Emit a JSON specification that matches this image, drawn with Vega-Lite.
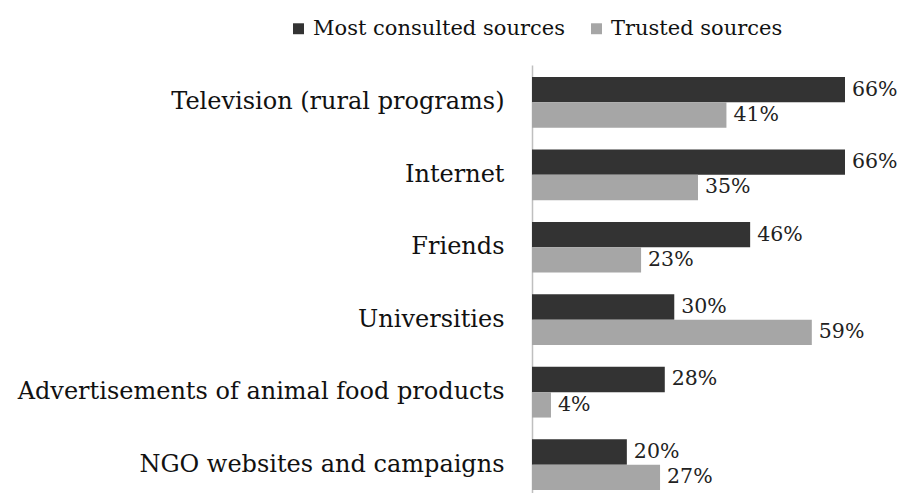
{
  "$schema": "https://vega.github.io/schema/vega-lite/v6.json",
  "width": 313,
  "height": 428,
  "autosize": {"type": "none"},
  "padding": {"left": 532, "top": 65, "right": 54, "bottom": 0},
  "background": "white",
  "config": {"view": {"stroke": null}, "font": "DejaVu Serif"},
  "data": {
    "values": [
      {"source": "Television (rural programs)", "series": "Most consulted sources", "value": 0.66},
      {"source": "Television (rural programs)", "series": "Trusted sources", "value": 0.41},
      {"source": "Internet", "series": "Most consulted sources", "value": 0.66},
      {"source": "Internet", "series": "Trusted sources", "value": 0.35},
      {"source": "Friends", "series": "Most consulted sources", "value": 0.46},
      {"source": "Friends", "series": "Trusted sources", "value": 0.23},
      {"source": "Universities", "series": "Most consulted sources", "value": 0.30},
      {"source": "Universities", "series": "Trusted sources", "value": 0.59},
      {"source": "Advertisements of animal food products", "series": "Most consulted sources", "value": 0.28},
      {"source": "Advertisements of animal food products", "series": "Trusted sources", "value": 0.04},
      {"source": "NGO websites and campaigns", "series": "Most consulted sources", "value": 0.20},
      {"source": "NGO websites and campaigns", "series": "Trusted sources", "value": 0.27}
    ]
  },
  "encoding": {
    "y": {
      "field": "source", "type": "nominal", "sort": null,
      "scale": {"paddingInner": 0.3, "paddingOuter": 0.103, "align": 0.8},
      "axis": {"title": null, "ticks": false, "domainColor": "#bfbfbf", "domainWidth": 1.5, "labelFontSize": 24, "labelColor": "#111111", "labelPadding": 28, "labelLimit": 700, "grid": false}
    },
    "yOffset": {"field": "series", "type": "nominal", "sort": ["Most consulted sources", "Trusted sources"]},
    "x": {"field": "value", "type": "quantitative", "scale": {"domain": [0, 0.66], "nice": false, "zero": true}, "axis": null}
  },
  "layer": [
    {
      "mark": {"type": "bar", "cornerRadius": 0},
      "encoding": {
        "color": {
          "field": "series", "type": "nominal",
          "scale": {"domain": ["Most consulted sources", "Trusted sources"], "range": ["#333333", "#a6a6a6"]},
          "legend": {"title": null, "orient": "none", "legendX": -244, "legendY": -47, "direction": "horizontal", "symbolType": "square", "symbolSize": 120, "symbolStrokeWidth": 0, "labelFontSize": 21, "labelColor": "#111111", "labelLimit": 500, "columnPadding": 21, "symbolOffset": 0, "labelOffset": 4}
        }
      }
    },
    {
      "mark": {"type": "text", "align": "left", "baseline": "middle", "dx": 7, "fontSize": 20.5, "color": "#222222"},
      "encoding": {"text": {"field": "value", "type": "quantitative", "format": ".0%"}}
    }
  ]
}
